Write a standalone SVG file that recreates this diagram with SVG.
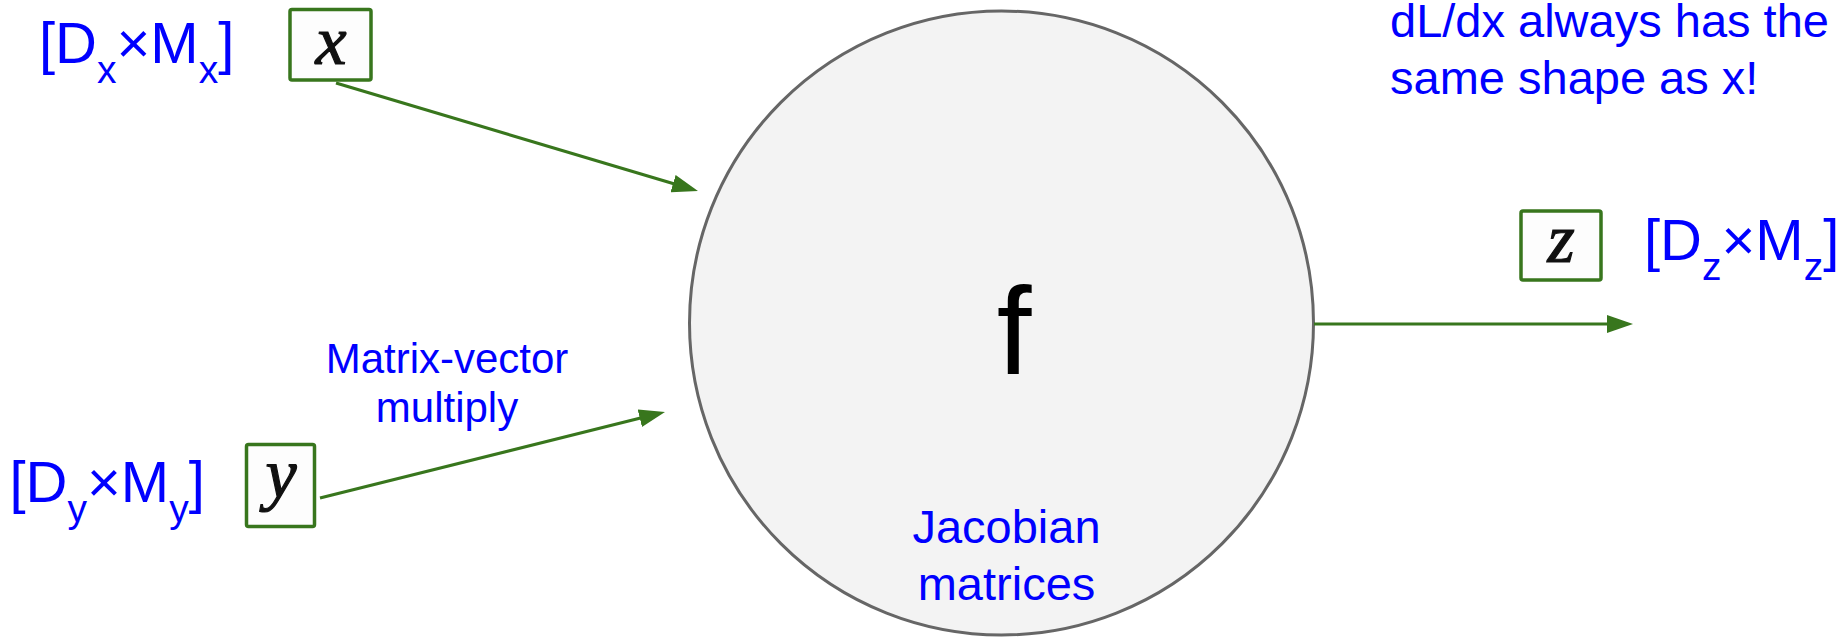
<svg xmlns="http://www.w3.org/2000/svg" width="1843" height="638" viewBox="0 0 1843 638">
<defs>
<marker id="ah" viewBox="0 0 26 18" refX="6" refY="9" markerWidth="26" markerHeight="18" markerUnits="userSpaceOnUse" orient="auto">
<path d="M0,0 L26,9 L0,18 z" fill="#38761d"/>
</marker>
<style>
.lbl{font-family:"Liberation Sans",Arial,sans-serif;fill:#0000ff}
.dim{font-size:58px}
.sub{font-size:39px}
.box{fill:#fdfdfd;stroke:#38761d;stroke-width:3.5}
.math{font-family:"Liberation Serif","Times New Roman",serif;font-style:italic;font-size:70px;fill:#111;stroke:#111;stroke-width:1.2;text-anchor:middle}
.conn{stroke:#38761d;stroke-width:3.2;fill:none;marker-end:url(#ah)}
.note{font-size:47px}
.mid{text-anchor:middle}
</style>
</defs>
<rect width="1843" height="638" fill="#ffffff"/>
<g id="node-f">
<circle cx="1001.5" cy="323" r="312" fill="#f3f3f3" stroke="#666666" stroke-width="3"/>
<text x="1014" y="374" font-family="Liberation Sans, Arial, sans-serif" font-size="125" fill="#000000" text-anchor="middle">f</text>
<text class="lbl note mid" x="1006.5" y="543">Jacobian</text>
<text class="lbl note mid" x="1006.5" y="600">matrices</text>
</g>
<g id="node-x">
<rect class="box" x="290" y="9.5" width="81" height="70.5" rx="2"/>
<text class="math" x="331" y="64">x</text>
<text class="lbl dim" x="39" y="63">[D<tspan class="sub" dy="20">x</tspan><tspan dy="-20">×M</tspan><tspan class="sub" dy="20">x</tspan><tspan dy="-20">]</tspan></text>
</g>
<g id="node-y">
<rect class="box" x="246.5" y="444.5" width="68" height="82" rx="2"/>
<text class="math" x="281" y="497">y</text>
<text class="lbl dim" x="9.5" y="501.5">[D<tspan class="sub" dy="20">y</tspan><tspan dy="-20">×M</tspan><tspan class="sub" dy="20">y</tspan><tspan dy="-20">]</tspan></text>
</g>
<g id="node-z">
<rect class="box" x="1521" y="211" width="80" height="69" rx="2"/>
<text class="math" x="1561" y="262">z</text>
<text class="lbl dim" x="1644" y="260">[D<tspan class="sub" dy="20">z</tspan><tspan dy="-20">×M</tspan><tspan class="sub" dy="20">z</tspan><tspan dy="-20">]</tspan></text>
</g>
<g id="note">
<text class="lbl note" x="1390" y="37">dL/dx always has the</text>
<text class="lbl note" x="1390" y="94">same shape as x!</text>
</g>
<g id="connectors">
<line class="conn" x1="336" y1="83" x2="678.8" y2="185.3"/>
<line class="conn" x1="320" y1="498" x2="645.6" y2="416.8"/>
<line class="conn" x1="1314" y1="324" x2="1613" y2="324"/>
<text class="lbl mid" x="447" y="373" font-size="42">Matrix-vector</text>
<text class="lbl mid" x="447" y="422" font-size="42">multiply</text>
</g>
</svg>
